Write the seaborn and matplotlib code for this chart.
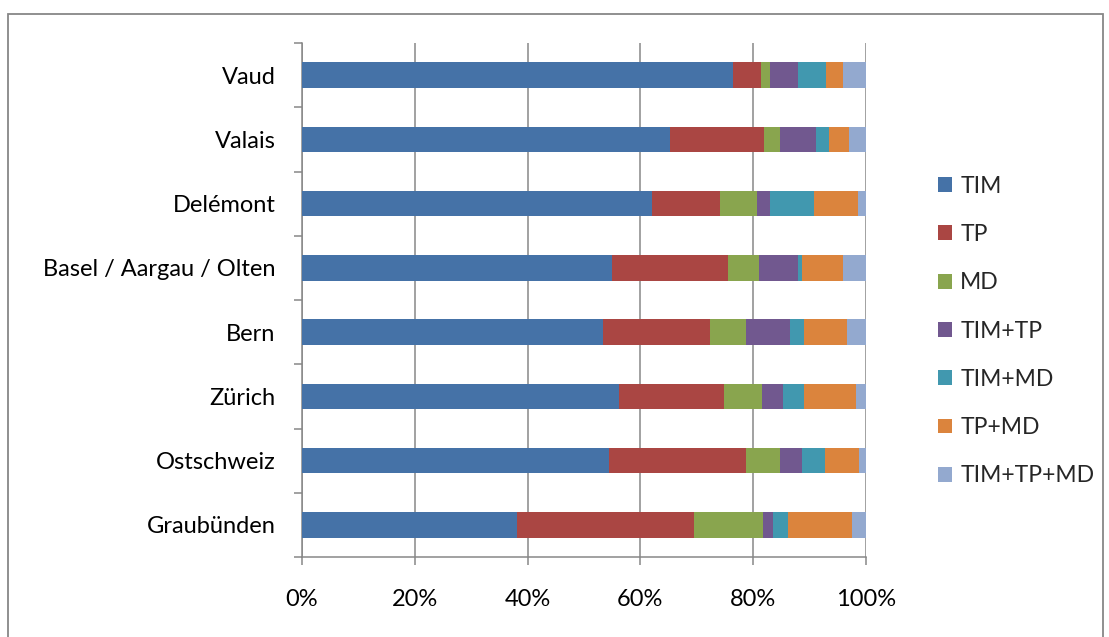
import numpy as np
import pandas as pd
import matplotlib
matplotlib.use("Agg")
import matplotlib.pyplot as plt
import seaborn as sns
from matplotlib.patches import Patch, Rectangle
from matplotlib.ticker import FixedLocator, PercentFormatter

# regions, top to bottom
regions = ["Vaud", "Valais", "Delémont", "Basel / Aargau / Olten", "Bern",
           "Zürich", "Ostschweiz", "Graubünden"]
series = ["TIM", "TP", "MD", "TIM+TP", "TIM+MD", "TP+MD", "TIM+TP+MD"]

# shares in %
tim = [76.4, 65.2, 62.1, 54.9, 53.3, 56.2, 54.4, 38.2]
tp = [4.9, 16.7, 12.1, 20.6, 19.1, 18.6, 24.3, 31.3]
md = [1.6, 2.8, 6.5, 5.5, 6.4, 6.8, 6.1, 12.3]
tim_tp = [5.0, 6.5, 2.2, 7.0, 7.7, 3.7, 3.9, 1.7]
tim_md = [5.0, 2.2, 7.9, 0.7, 2.5, 3.7, 4.1, 2.6]
tp_md = [3.1, 3.6, 7.8, 7.2, 7.7, 9.3, 6.0, 11.4]
tim_tp_md = [4.0, 3.0, 1.4, 4.1, 3.3, 1.7, 1.2, 2.5]

colors = ["#4572A7", "#AA4643", "#89A54E", "#71588F", "#4198AF", "#DB843D", "#93A9CF"]

sns.set_theme(style="white")
plt.rcParams["font.family"] = ["Lato", "DejaVu Sans"]
grey = "#878787"

df = pd.DataFrame(dict(zip(series, [tim, tp, md, tim_tp, tim_md, tp_md, tim_tp_md])),
                  index=regions)
# normalise each row to 100 % and stack
shares = df.div(df.sum(axis=1), axis=0) * 100
cum = shares.cumsum(axis=1)

fig = plt.figure(figsize=(11.09, 6.37), dpi=100)
ax = fig.add_axes([302 / 1109, 80 / 637, 564 / 1109, 514 / 637])

# draw from the outermost segment inwards so each one covers the previous
for i in range(len(series) - 1, -1, -1):
    sns.barplot(x=cum[series[i]].values, y=regions, color=colors[i], orient="h",
                width=0.4, saturation=1, ax=ax, zorder=3, linewidth=0)

ax.set_xlim(0, 100)
ax.set_ylim(len(regions) - 0.5, -0.5)
ax.set_xticks(np.arange(0, 101, 20))
ax.xaxis.set_major_formatter(PercentFormatter(decimals=0))
ax.grid(axis="x", color=grey, linewidth=1.1, zorder=0)
ax.set_axisbelow(True)
ax.set_xlabel("")
ax.set_ylabel("")

ax.yaxis.set_minor_locator(FixedLocator(np.arange(-0.5, len(regions), 1)))
ax.tick_params(axis="y", which="major", length=0, pad=19, labelsize=17, colors="black")
ax.tick_params(axis="y", which="minor", length=6, width=1.1, color=grey, left=True)
ax.tick_params(axis="x", which="major", length=6, width=1.1, color=grey, bottom=True,
               pad=17, labelsize=17, labelcolor="black")

for side in ["top", "right"]:
    ax.spines[side].set_visible(False)
for side in ["left", "bottom"]:
    ax.spines[side].set_color(grey)
    ax.spines[side].set_linewidth(1.1)

handles = [Patch(facecolor=c, edgecolor="none") for c in colors]
fig.legend(handles, series, loc="center left", bbox_to_anchor=(938 / 1109, 1 - 331 / 637),
           frameon=False, fontsize=16.5, handlelength=0.62, handleheight=0.62,
           handletextpad=0.35, labelspacing=1.19, borderpad=0, borderaxespad=0)

# outer chart frame
fig.patches.append(Rectangle((8 / 1109, -0.05), (1103 - 8) / 1109, 1.05 - 14 / 637,
                             transform=fig.transFigure, fill=False,
                             edgecolor=grey, linewidth=1.3))

fig.savefig("out.png", dpi=100)
